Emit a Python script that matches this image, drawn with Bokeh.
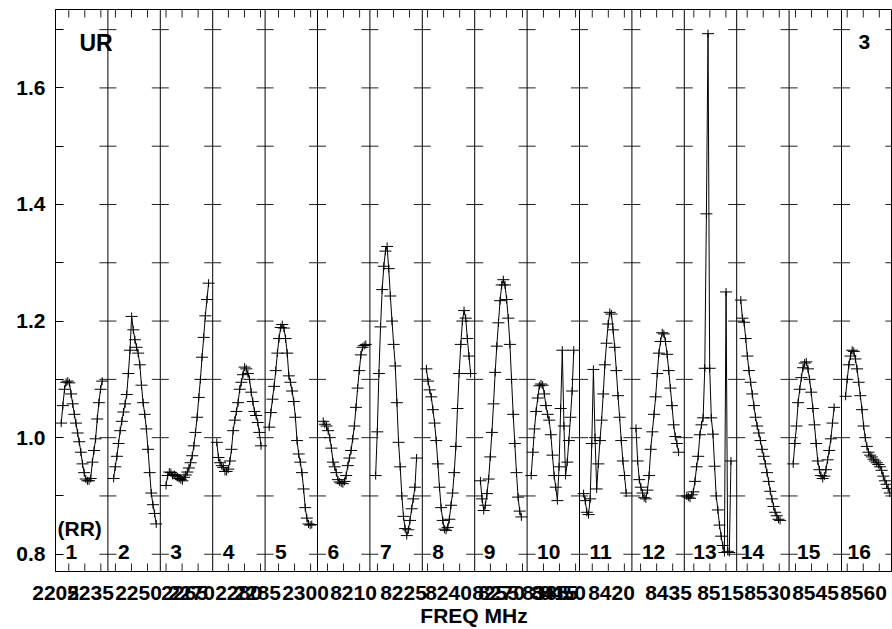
import math
from bokeh.plotting import figure
from bokeh.models import (Range1d, Span, Label, FixedTicker, PrintfTickFormatter,
                          CustomJSTickFormatter, AllLabels)
from bokeh.embed import file_html
from bokeh.resources import INLINE

# ---------------- data (amplitude per channel, 16 IF panels of 32 channels) ----------------
N_CHAN = 32
first_chan = [3, 3, 3, 2, 2, 3, 3, 2, 3, 2, 2, 2, 1, 2, 2, 2]

if01 = [1.025, 1.055, 1.083, 1.095, 1.097, 1.094, 1.075, 1.058, 1.040, 1.025, 1.008, 0.993, 0.975,
        0.955, 0.940, 0.929, 0.926, 0.926, 0.930, 0.958, 0.978, 0.998, 1.032, 1.060, 1.083, 1.097]
if02 = [0.930, 0.950, 0.968, 0.990, 1.012, 1.028, 1.044, 1.058, 1.074, 1.110, 1.150, 1.208, 1.185,
        1.168, 1.155, 1.145, 1.125, 1.090, 1.060, 1.040, 1.015, 0.980, 0.940, 0.905, 0.885, 0.870, 0.852]
if03 = [0.918, 0.935, 0.941, 0.940, 0.935, 0.937, 0.935, 0.933, 0.930, 0.928, 0.926, 0.932, 0.936,
        0.941, 0.948, 0.957, 0.969, 0.986, 1.009, 1.035, 1.069, 1.100, 1.138, 1.172, 1.209, 1.237, 1.265]
if04 = [0.992, 0.966, 0.957, 0.952, 0.949, 0.942, 0.942, 0.946, 0.960, 0.980, 1.012, 1.030, 1.045,
        1.060, 1.083, 1.095, 1.108, 1.121, 1.118, 1.110, 1.100, 1.078, 1.062, 1.045, 1.038, 1.026, 1.009, 0.986]
if05 = [1.018, 1.043, 1.066, 1.088, 1.115, 1.145, 1.170, 1.189, 1.194, 1.188, 1.170, 1.145, 1.106,
        1.095, 1.080, 1.062, 1.035, 0.995, 0.972, 0.958, 0.940, 0.912, 0.880, 0.862, 0.852, 0.850, 0.851]
if06 = [1.028, 1.023, 1.020, 1.012, 1.000, 0.982, 0.958, 0.950, 0.940, 0.928, 0.924, 0.922, 0.921,
        0.925, 0.935, 0.952, 0.965, 0.978, 0.998, 1.020, 1.052, 1.085, 1.115, 1.142, 1.155, 1.158, 1.160]
if07 = [0.935, 1.010, 1.110, 1.190, 1.254, 1.294, 1.320, 1.328, 1.290, 1.243, 1.200, 1.160, 1.123,
        1.060, 0.992, 0.950, 0.900, 0.865, 0.844, 0.832, 0.842, 0.858, 0.878, 0.895, 0.915, 0.965]
if08 = [1.118, 1.097, 1.082, 1.070, 1.048, 1.025, 0.995, 0.955, 0.915, 0.880, 0.858, 0.843, 0.841,
        0.846, 0.860, 0.884, 0.905, 0.940, 0.985, 1.050, 1.110, 1.160, 1.200, 1.218, 1.205, 1.170, 1.140, 1.110]
if09 = [0.926, 0.895, 0.875, 0.884, 0.904, 0.929, 0.967, 1.009, 1.058, 1.112, 1.157, 1.197, 1.235,
        1.262, 1.271, 1.262, 1.237, 1.205, 1.160, 1.100, 1.040, 0.990, 0.940, 0.898, 0.874, 0.864]
if10 = [0.935, 0.975, 1.015, 1.045, 1.068, 1.089, 1.092, 1.090, 1.075, 1.055, 1.040, 1.030, 1.005,
        0.970, 0.935, 0.915, 0.892, 0.950, 1.050, 1.150, 1.020, 0.935, 0.958, 0.995, 1.035, 1.080, 1.150]
if11 = [0.904, 0.892, 0.872, 0.868, 0.895, 0.990, 1.117, 1.000, 0.912, 0.955, 0.995, 1.030, 1.075,
        1.125, 1.162, 1.195, 1.215, 1.212, 1.185, 1.155, 1.115, 1.072, 1.035, 0.995, 0.960, 0.935, 0.905]
if12 = [1.016, 0.960, 0.928, 0.915, 0.905, 0.897, 0.895, 0.910, 0.935, 0.980, 1.010, 1.040, 1.070,
        1.110, 1.145, 1.165, 1.180, 1.178, 1.165, 1.143, 1.115, 1.085, 1.055, 1.022, 1.002, 0.990, 0.975]
if13 = [0.900, 0.898, 0.896, 0.902, 0.907, 0.925, 0.950, 0.968, 1.005, 1.022, 1.034, 1.119, 1.384,
        1.693, 1.119, 1.034, 1.006, 0.951, 0.900, 0.876, 0.850, 0.831, 0.815, 0.803, 1.250, 0.805,
        0.803, 0.960]
if14 = [1.236, 1.205, 1.198, 1.170, 1.140, 1.115, 1.095, 1.075, 1.055, 1.035, 1.020, 1.008, 0.995,
        0.980, 0.968, 0.955, 0.940, 0.925, 0.908, 0.895, 0.882, 0.872, 0.866, 0.860, 0.858]
if15 = [0.955, 0.990, 1.020, 1.060, 1.083, 1.103, 1.120, 1.128, 1.130, 1.118, 1.100, 1.078, 1.050,
        1.022, 0.990, 0.960, 0.945, 0.935, 0.930, 0.934, 0.945, 0.962, 0.978, 0.998, 1.025, 1.052]
if16 = [1.071, 1.100, 1.125, 1.140, 1.150, 1.148, 1.135, 1.118, 1.095, 1.072, 1.048, 1.020, 1.000,
        0.985, 0.975, 0.970, 0.967, 0.963, 0.960, 0.957, 0.954, 0.950, 0.944, 0.934, 0.926, 0.920,
        0.913, 0.905]
panels = [if01, if02, if03, if04, if05, if06, if07, if08, if09, if10, if11, if12, if13, if14, if15, if16]
panel_names = [str(i) for i in range(1, 17)]

freq_labels = ["2205", "2235", "2250", "2265", "2270", "2280", "2285", "2300", "8210", "8225",
               "8240", "8255", "8270", "8385", "8415", "8450", "8420", "8435", "8515", "8530",
               "8545", "8560"]
y_major = [0.8, 1.0, 1.2, 1.4, 1.6]
y_minor = [0.9, 1.1, 1.3, 1.5, 1.7]
y_marks = [0.8, 0.9, 1.0, 1.1, 1.2, 1.3, 1.4, 1.5, 1.6, 1.7]

# ---------------- layout (pixels) ----------------
W, H = 892, 629
B_LEFT, B_TOP, B_BOTTOM = 55, 9, 56
FRAME_X0 = B_LEFT
FRAME_Y0 = B_TOP
PX_PER_CH = 1.6375
PX_PER_UNIT = 585.0
Y_TOP = 1.7345
frame_h = H - B_TOP - B_BOTTOM
Y_BOT = Y_TOP - frame_h / PX_PER_UNIT
X_END = (W - B_LEFT) / PX_PER_CH

freq_label_left_px = [29, 67, 115, 161, 168, 215, 234, 282, 330, 380, 425, 472, 478, 522, 531, 539,
                      588, 645, 697, 744, 792, 840]
LABEL_HALF_W = 23
tick_first = [8.1, 4.6, 3.5, 9.6, 8.2, 6.1, 4.6, 3.2, 9.6, 10.0, 7.8, 5.3, 5.8, 6.4, 3.9, 3.5]
TICK_STEP = 9.8
num_dx_px = [10, 10, 10, 10, 10, 10, 10, 10, 9, 10, 10, 10, 9, 4, 8, 6]


def cx(px):
    return (px - FRAME_X0) / PX_PER_CH


def vy(py):
    return Y_TOP - (py - FRAME_Y0) / PX_PER_UNIT


FONT = "Liberation Sans"

p = figure(width=W, height=H, output_backend="svg", toolbar_location=None,
           x_range=Range1d(0, X_END), y_range=Range1d(Y_BOT, Y_TOP),
           min_border_left=B_LEFT, min_border_right=0,
           min_border_top=B_TOP, min_border_bottom=B_BOTTOM)
p.grid.grid_line_color = None
p.outline_line_color = "black"
p.outline_line_width = 1
p.outline_line_alpha = 1.0
p.background_fill_color = "white"
p.border_fill_color = "white"

ya = p.yaxis[0]
ya.ticker = FixedTicker(ticks=y_major, minor_ticks=y_minor)
ya.formatter = PrintfTickFormatter(format="%.1f")
ya.major_tick_in = 8
ya.major_tick_out = 0
ya.minor_tick_in = 8
ya.minor_tick_out = 0
ya.major_tick_line_color = "black"
ya.minor_tick_line_color = "black"
ya.axis_line_color = "black"
ya.major_label_standoff = 10
ya.major_label_text_font = FONT
ya.major_label_text_font_style = "bold"
ya.major_label_text_font_size = "21px"
ya.major_label_text_color = "black"

# x axis: frequency labels per IF (they overlap, as in the original)
xa = p.xaxis[0]
label_centers = [max(cx(px + LABEL_HALF_W), 0.05) for px in freq_label_left_px]
xa.ticker = FixedTicker(ticks=label_centers, minor_ticks=[])
xa.formatter = CustomJSTickFormatter(args=dict(labs=freq_labels), code="return labs[index];")
xa.major_label_policy = AllLabels()
xa.major_tick_in = 0
xa.major_tick_out = 0
xa.minor_tick_in = 0
xa.minor_tick_out = 0
xa.axis_line_color = "black"
xa.major_label_standoff = 14
xa.major_label_text_font = FONT
xa.major_label_text_font_style = "bold"
xa.major_label_text_font_size = "21px"
xa.major_label_text_color = "black"
xa.axis_label = "FREQ MHz"
xa.axis_label_standoff = 1
xa.axis_label_text_font = FONT
xa.axis_label_text_font_style = "bold"
xa.axis_label_text_font_size = "21px"
xa.axis_label_text_color = "black"

# panel separators
for k in range(1, 17):
    p.add_layout(Span(location=k * N_CHAN, dimension="height", line_color="black", line_width=1))

# short horizontal tick dashes on every separator
gx, gy = [], []
for k in range(1, 17):
    for yv in y_marks:
        gx.append(k * N_CHAN)
        gy.append(yv)
p.scatter(gx, gy, marker="dash", size=17, line_color="#222222", line_width=1)

# frequency ticks on the top and bottom frame edges
tx = []
for k, off in enumerate(tick_first):
    t = off
    while t < N_CHAN - 0.5:
        tx.append(k * N_CHAN + t)
        t += TICK_STEP
p.scatter(tx, [Y_TOP] * len(tx), marker="dash", angle=math.pi / 2, size=16,
          line_color="#222222", line_width=1)
p.scatter(tx, [Y_BOT] * len(tx), marker="dash", angle=math.pi / 2, size=16,
          line_color="#222222", line_width=1)

# data
for k, vals in enumerate(panels):
    xs = [k * N_CHAN + c + 0.5 for c in range(first_chan[k], first_chan[k] + len(vals))]
    p.line(xs, vals, line_color="black", line_width=1)
    p.scatter(xs, vals, marker="dash", size=12, line_color="black", line_width=1)
    p.scatter(xs, vals, marker="dash", angle=math.pi / 2, size=8, line_color="black", line_width=1)

# panel numbers
for k, name in enumerate(panel_names):
    p.add_layout(Label(x=k * N_CHAN + num_dx_px[k] / PX_PER_CH, y=vy(553.3), text=name,
                       text_font=FONT, text_font_style="bold", text_font_size="21px",
                       text_align="left", text_baseline="alphabetic", text_color="black"))

p.add_layout(Label(x=cx(57), y=vy(529.5), text="(RR)", text_font=FONT, text_font_style="bold",
                   text_font_size="21px", text_align="left", text_baseline="alphabetic",
                   text_color="black"))
p.add_layout(Label(x=cx(79), y=vy(42.7), text="UR", text_font=FONT, text_font_style="bold",
                   text_font_size="23px", text_align="left", text_baseline="alphabetic",
                   text_color="black"))
p.add_layout(Label(x=cx(858), y=vy(41.7), text="3", text_font=FONT, text_font_style="bold",
                   text_font_size="21px", text_align="left", text_baseline="alphabetic",
                   text_color="black"))

open("out.html", "w").write(file_html(p, INLINE))
